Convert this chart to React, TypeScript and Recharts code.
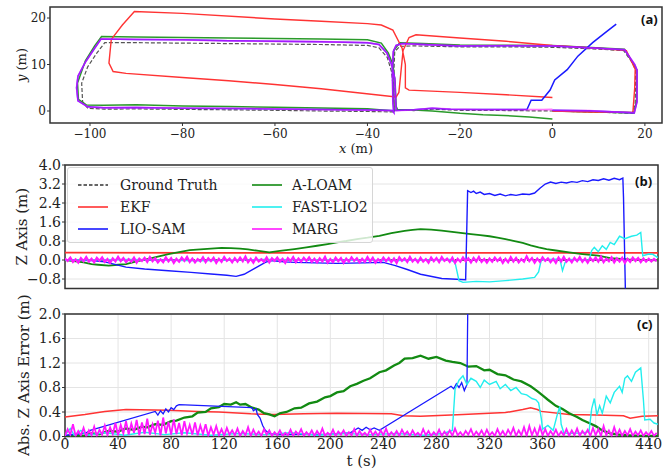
import React from 'react';
import { LineChart, Line, XAxis, YAxis, CartesianGrid, ReferenceArea, Legend } from 'recharts';

type P = [number, number];
const FONT = "'DejaVu Serif', serif";
const TAG_FONT = "'Open Sans', sans-serif";

// ---------- Panel (a): trajectories, x (m) / y (m) ----------
const gtPath: P[] = [
  [0, 0], [8, -0.2], [17.3, -0.5], [17.9, 1.5], [18, 8.8], [17.2, 10.5], [15.4, 13], [8, 13.4], [0, 13.7],
  [-10, 13.8], [-20, 13.8], [-30, 14], [-33, 13.9], [-34.1, 12.8], [-34.3, 8], [-34.2, 1], [-34.4, -0.2],
  [-40, -0.1], [-50, 0], [-60, 0.15], [-70, 0.25], [-80, 0.35], [-90, 0.45], [-97, 0.4], [-100.5, 0.6],
  [-101.6, 2], [-101.8, 6], [-100.5, 9.5], [-98.5, 12.5], [-96.8, 14.7], [-90, 14.7], [-80, 14.6], [-70, 14.5],
  [-60, 14.4], [-50, 14.3], [-40, 14.1], [-37.5, 13.6], [-35.7, 11.5], [-34.8, 8.5], [-34.3, 4], [-34.2, 0.2],
  [-30, 0.1], [-26, 0.4], [-20, 0.15], [-10, 0.1], [0, 0],
];
const ekfPath: P[] = [
  [0, 0], [8, -0.2], [17.4, -0.3], [17.8, 5], [17.9, 9], [16, 13], [10, 13.5], [0, 14.1], [-10, 15], [-20, 15.7],
  [-29.5, 16.4], [-31, 15.8], [-32.3, 13], [-32.8, 8], [-33.2, 4], [-33.8, 3], [-37.2, 3.4], [-50, 4.8],
  [-60, 5.7], [-70, 6.5], [-80, 7.2], [-92.2, 8.1], [-95, 8.5], [-95.9, 10.3], [-95.4, 15.4], [-93, 18.5],
  [-90.4, 21.4], [-80, 21], [-60, 19.8], [-50, 19.3], [-40, 18.8], [-37, 18.5], [-34.5, 17.4], [-32.5, 13.5],
  [-31.8, 10], [-31.8, 5], [-31, 4.5], [-20, 4], [-10, 3.5], [0, 2.9],
];
const aloamPath: P[] = [
  [0, 0], [10, -0.2], [17.6, -0.4], [18.2, 2], [18.3, 8.8], [15.6, 13.3], [0, 14.1], [-20, 14.2], [-28, 14.5],
  [-33, 14.7], [-34.3, 13], [-34.5, 9], [-34.4, 2], [-34.2, 0], [-40, 0.5], [-50, 0.65], [-60, 0.8], [-70, 0.95],
  [-80, 1.1], [-90, 1.35], [-97, 1.25], [-100.8, 1.3], [-102.5, 2.5], [-102.7, 6], [-101, 10.8], [-99, 14],
  [-97.5, 16], [-90, 15.9], [-80, 15.8], [-70, 15.7], [-60, 15.6], [-50, 15.5], [-40, 15.3], [-37, 14.6],
  [-35.5, 12.5], [-34.5, 10], [-34, 6], [-33.8, 1], [-33.5, 0.3], [-30, 0.2], [-26, 0], [-20, -0.5],
  [-15, -0.8], [-10.5, -0.95], [-5, -1.3], [0, -1.7],
];
const sharedLoop: P[] = [
  [0, 0.15], [8, 0.05], [17.7, -0.4], [18.3, 2], [18.3, 8.8], [17.8, 10], [15.6, 13.2], [8, 13.6], [0, 14],
  [-10, 14.05], [-20, 14], [-28, 14.3], [-32.5, 14.5], [-33.8, 14.1], [-34.4, 12.8], [-34.6, 9], [-34.5, 2],
  [-34.3, -0.3], [-34.6, 0.1], [-40, 0.2], [-50, 0.3], [-60, 0.45], [-70, 0.55], [-80, 0.6], [-90, 0.75],
  [-97, 0.7], [-100.5, 0.9], [-102.6, 2.2], [-102.9, 5], [-102.6, 7.5], [-101, 10.5], [-99, 13.5], [-97.6, 15.5],
  [-90, 15.4], [-80, 15.3], [-70, 15.1], [-60, 15], [-50, 14.9], [-40, 14.7], [-37.5, 14.3], [-35.8, 12.5],
  [-34.8, 10], [-34.1, 7], [-33.9, 2], [-33.8, 0.1], [-30, 0.25], [-26, 0.6], [-22, 0.4], [-15, 0.3],
  [-10, 0.3], [-5.5, 0.3],
];
const margTail: P[] = [[-2, 0.3], [0, 0.35]];
const lioTail: P[] = [
  [-4.6, 2.3], [-2.3, 2.3], [-0.5, 4.5], [0.5, 6.7], [3.2, 8.9], [5.5, 11.8], [8.7, 14.7], [11.5, 16.9], [13.8, 18.7],
];
const xTicksA = [-100, -80, -60, -40, -20, 0, 20];
const yTicksA = [0, 10, 20];

// ---------- Panel (b): Z axis (m) vs t (s) ----------
const gtZ: P[] = [[0, 0], [447, 0]];
const ekfZ: P[] = [[0, 0.31], [100, 0.3], [200, 0.3], [300, 0.3], [447, 0.3]];
const lioZ: P[] = [
  [0, 0], [20, -0.02], [30, -0.08], [46, -0.3], [60, -0.38], [78, -0.45], [95, -0.52], [110, -0.59], [122, -0.64],
  [129, -0.69], [135, -0.6], [143, -0.35], [151, -0.1], [155, -0.02], [165, -0.08], [173, -0.1], [205, -0.14],
  [225, -0.12], [240, -0.1], [249, -0.24], [258, -0.4], [268, -0.6], [284, -0.78], [302, -0.83], [303.5, 2.92],
  [306, 2.84], [308, 2.9], [310, 2.8], [313, 2.86], [316, 2.76], [320, 2.8], [324, 2.72], [328, 2.78], [332, 2.7],
  [336, 2.76], [340, 2.72], [345, 2.78], [350, 2.76], [354, 2.82], [358, 3.02], [362, 3.2], [366, 3.28], [370, 3.22],
  [374, 3.28], [378, 3.24], [382, 3.3], [386, 3.27], [390, 3.34], [394, 3.3], [398, 3.38], [402, 3.35], [406, 3.42],
  [410, 3.36], [414, 3.44], [418, 3.38], [420.5, 3.45], [421, 2.63], [422.5, -1.5],
];
const aloamZ: P[] = [
  [0, 0], [8, -0.06], [14, -0.1], [20, -0.17], [25, -0.2], [33, -0.24], [40, -0.2], [46, -0.17], [54, -0.06],
  [62, 0.04], [70, 0.14], [78, 0.25], [86, 0.33], [94, 0.42], [102, 0.45], [110, 0.48], [118, 0.51], [125, 0.5],
  [132, 0.48], [138, 0.45], [146, 0.38], [154, 0.32], [162, 0.38], [173, 0.46], [182, 0.53], [190, 0.6],
  [198, 0.67], [205, 0.74], [212, 0.8], [220, 0.88], [228, 0.94], [237, 1.02], [246, 1.13], [256, 1.23],
  [262, 1.27], [268, 1.3], [276, 1.28], [284, 1.24], [295, 1.16], [306, 1.09], [313, 1.05], [320, 1],
  [326, 0.94], [332, 0.88], [338, 0.81], [345, 0.72], [351, 0.62], [357, 0.53], [363, 0.46], [370, 0.4],
  [380, 0.32], [390, 0.25], [402, 0.18], [411, 0.08], [425, 0.03], [447, -0.02],
];
const fastlioZ: P[] = [
  [0, 0], [50, 0.02], [100, -0.03], [150, 0.02], [200, 0], [250, -0.02], [290, 0.02], [294, -0.1], [297, -0.87],
  [300, -0.94], [310, -0.9], [320, -0.92], [332, -0.87], [345, -0.8], [354, -0.73], [357, -0.5], [359, 0], [365, 0.02],
  [373, 0.04], [375, -0.45], [377, -0.1], [380, 0.02], [395, 0], [397, 0.4], [399, 0.53], [402, 0.35], [405, 0.6],
  [408, 0.45], [411, 0.74], [414, 0.65], [418, 1], [422, 0.9], [427, 1], [431, 1.05], [434, 1.16], [435.5, 0.18],
  [440, 0.25], [443, 0.24], [447, 0.1],
];
const MARG_DT = 2; // sampling step of the MARG traces (s)
const margZ = [
  0.06, -0.04, 0.1, -0.08, 0.03, -0.11, 0.08, -0.05, 0.12, -0.07,
  0.05, -0.1, 0.09, -0.03, 0.11, -0.08, 0.04, -0.12, 0.07, -0.06,
  0.13, -0.05, 0.08, -0.09, 0.04, -0.07, 0.1, -0.11, 0.06, -0.04,
  0.09, -0.08, 0.12, -0.05, 0.07, -0.1, 0.03, -0.09, 0.11, -0.06,
  0.08, -0.12, 0.05, -0.07, 0.1, -0.04, 0.13, -0.08, 0.06, -0.1,
  0.04, -0.06, 0.11, -0.09, 0.07, -0.05, 0.09, -0.12, 0.05, -0.08,
  0.12, -0.04, 0.06, -0.1, 0.08, -0.07, 0.1, -0.05, 0.14, -0.09,
  0.05, -0.11, 0.09, -0.06, 0.03, -0.08, 0.11, -0.1, 0.07, -0.04,
  0.1, -0.07, 0.05, -0.12, 0.08, -0.05, 0.12, -0.09, 0.06, -0.07,
  0.09, -0.04, 0.11, -0.08, 0.05, -0.1, 0.07, -0.06, 0.13, -0.11,
  0.04, -0.09, 0.1, -0.05, 0.08, -0.12, 0.06, -0.07, 0.11, -0.04,
  0.07, -0.1, 0.05, -0.08, 0.12, -0.06, 0.09, -0.11, 0.04, -0.07,
  0.1, -0.05, 0.08, -0.09, 0.06, -0.12, 0.11, -0.04, 0.07, -0.08,
  0.13, -0.06, 0.05, -0.1, 0.09, -0.07, 0.04, -0.11, 0.1, -0.05,
  0.08, -0.09, 0.12, -0.04, 0.06, -0.08, 0.1, -0.12, 0.05, -0.07,
  0.11, -0.05, 0.07, -0.1, 0.09, -0.06, 0.13, -0.08, 0.04, -0.11,
  0.06, -0.07, 0.1, -0.04, 0.08, -0.12, 0.05, -0.09, 0.12, -0.06,
  0.09, -0.1, 0.04, -0.07, 0.15, -0.05, 0.08, -0.11, 0.06, -0.08,
  0.11, -0.04, 0.07, -0.09, 0.05, -0.12, 0.1, -0.06, 0.13, -0.07,
  0.05, -0.1, 0.09, -0.05, 0.12, -0.08, 0.06, -0.11, 0.08, -0.04,
  0.1, -0.07, 0.14, -0.09, 0.06, -0.05, 0.11, -0.1, 0.07, -0.06,
  0.09, -0.12, 0.05, -0.08, 0.1, -0.04, 0.08, -0.09, 0.06, -0.07,
  0.05, -0.06, 0.04, -0.05,
];
const yTicksB = [-0.8, 0, 0.8, 1.6, 2.4, 3.2, 4.0];

// ---------- Panel (c): Abs. Z axis error (m) vs t (s) ----------
const ekfErr: P[] = [
  [0, 0.32], [15, 0.36], [30, 0.41], [46, 0.44], [78, 0.43], [100, 0.41], [116, 0.4], [140, 0.37], [157, 0.36],
  [180, 0.37], [205, 0.38], [246, 0.37], [255, 0.34], [268, 0.33], [300, 0.36], [332, 0.39], [345, 0.44], [351, 0.47],
  [356, 0.44], [359, 0.41], [380, 0.36], [400, 0.35], [421, 0.34], [426, 0.3], [435, 0.33], [447, 0.34],
];
const aloamErr: P[] = [
  [0, 0], [8, 0.02], [14, 0.01], [20, 0.05], [26, 0.04], [33, 0.09], [40, 0.08], [46, 0.13], [52, 0.11], [58, 0.16],
  [62, 0.15], [68, 0.2], [74, 0.19], [80, 0.25], [84, 0.26], [90, 0.31], [96, 0.33], [100, 0.39], [106, 0.4],
  [110, 0.46], [116, 0.48], [120, 0.53], [125, 0.52], [129, 0.56], [132, 0.52], [136, 0.53], [141, 0.47],
  [146, 0.44], [150, 0.38], [154, 0.36], [158, 0.33], [162, 0.38], [167, 0.4], [173, 0.46], [178, 0.47],
  [184, 0.54], [190, 0.57], [196, 0.64], [200, 0.66], [205, 0.72], [210, 0.74], [215, 0.82], [220, 0.86],
  [225, 0.91], [230, 0.95], [237, 1.05], [242, 1.08], [248, 1.16], [252, 1.2], [256, 1.27], [262, 1.28],
  [268, 1.32], [274, 1.27], [280, 1.3], [287, 1.24], [292, 1.22], [298, 1.2], [304, 1.14], [310, 1.15],
  [316, 1.08], [320, 1.09], [326, 1.02], [332, 1], [338, 0.93], [344, 0.9], [351, 0.82], [356, 0.74],
  [360, 0.67], [364, 0.6], [370, 0.5], [375, 0.45], [380, 0.38], [386, 0.32], [390, 0.27], [395, 0.22],
  [400, 0.17], [405, 0.1], [411, 0.05], [418, 0.03], [425, 0.02], [435, 0.01], [447, 0.01],
];
const lioErr: P[] = [
  [0, 0.02], [15, 0.05], [19, 0.1], [68, 0.41], [70, 0.35], [72, 0.42], [74, 0.37], [76, 0.45], [78, 0.4], [80, 0.47],
  [82, 0.44], [84, 0.5], [86, 0.52], [141, 0.47], [142, 0.42], [144, 0.45], [145, 0.36], [147, 0.3], [149, 0.18],
  [151, 0.1], [154, 0.05], [160, 0.03], [200, 0.04], [215, 0.06], [221, 0.14], [224, 0.1], [227, 0.15], [230, 0.11],
  [233, 0.14], [237, 0.1], [291, 0.82], [293, 0.78], [295, 0.86], [297, 0.8], [299, 0.88], [301, 0.75], [303, 0.85],
  [304, 2.9], [420, 3.4],
];
const fastlioErr: P[] = [
  [0, 0.02], [4, 0.13], [7, 0.02], [12, 0.1], [16, 0.02], [30, 0.06], [45, 0.02], [60, 0.07], [75, 0.03], [90, 0.06],
  [110, 0.02], [130, 0.05], [150, 0.03], [170, 0.06], [190, 0.02], [210, 0.05], [230, 0.03], [250, 0.05], [270, 0.02],
  [285, 0.05], [292, 0.1], [294, 0.77], [297, 0.92], [300, 0.99], [303, 0.85], [306, 0.95], [310, 0.9], [313, 0.8],
  [316, 0.92], [320, 0.85], [325, 0.9], [328, 0.78], [332, 0.85], [336, 0.75], [340, 0.8], [344, 0.7], [348, 0.68],
  [352, 0.62], [355, 0.6], [357, 0.55], [359, 0.3], [360, 0.12], [364, 0.18], [368, 0.1], [371, 0.35], [373, 0.49],
  [374, 0.2], [376, 0.06], [380, 0.05], [390, 0.06], [395, 0.08], [397, 0.45], [399, 0.62], [401, 0.35], [403, 0.5],
  [405, 0.38], [408, 0.66], [411, 0.55], [414, 0.72], [418, 0.82], [420, 0.72], [422, 0.95], [424, 0.99], [427, 0.9],
  [430, 1.05], [434, 1.12], [436, 0.6], [437, 0.27], [441, 0.28], [444, 0.22], [447, 0.2],
];
const margErr = [
  0.01, 0.12, 0.03, 0.2, 0.01, 0.09, 0.02, 0.14, 0, 0.1,
  0.02, 0.16, 0.01, 0.11, 0.03, 0.18, 0.02, 0.15, 0.04, 0.22,
  0.02, 0.19, 0.05, 0.25, 0.03, 0.21, 0.06, 0.27, 0.02, 0.23,
  0.04, 0.29, 0.03, 0.2, 0.06, 0.26, 0.02, 0.31, 0.05, 0.24,
  0.03, 0.28, 0.04, 0.22, 0.02, 0.25, 0.05, 0.19, 0.03, 0.23,
  0.02, 0.18, 0.04, 0.2, 0.01, 0.15, 0.03, 0.17, 0.02, 0.12,
  0.01, 0.14, 0.03, 0.1, 0.02, 0.13, 0.01, 0.09, 0.02, 0.15,
  0.01, 0.11, 0.02, 0.08, 0.01, 0.12, 0.03, 0.1, 0.01, 0.07,
  0.02, 0.1, 0.01, 0.06, 0.02, 0.11, 0.01, 0.08, 0.03, 0.12,
  0.01, 0.07, 0.02, 0.1, 0.01, 0.09, 0.02, 0.13, 0.01, 0.06,
  0.02, 0.11, 0.01, 0.08, 0.03, 0.1, 0.01, 0.07, 0.02, 0.12,
  0.01, 0.09, 0.02, 0.06, 0.01, 0.11, 0.02, 0.08, 0.01, 0.1,
  0.02, 0.13, 0.01, 0.07, 0.02, 0.09, 0.01, 0.11, 0.03, 0.08,
  0.01, 0.1, 0.02, 0.06, 0.01, 0.12, 0.02, 0.09, 0.01, 0.07,
  0.02, 0.11, 0.01, 0.08, 0.02, 0.1, 0.01, 0.13, 0.02, 0.07,
  0.01, 0.09, 0.03, 0.12, 0.01, 0.08, 0.02, 0.1, 0.01, 0.11,
  0.02, 0.07, 0.01, 0.12, 0.02, 0.09, 0.01, 0.11, 0.03, 0.14,
  0.01, 0.1, 0.02, 0.15, 0.01, 0.17, 0.02, 0.13, 0.01, 0.16,
  0.02, 0.12, 0.01, 0.09, 0.02, 0.11, 0.01, 0.08, 0.02, 0.12,
  0.01, 0.1, 0.02, 0.13, 0.01, 0.09, 0.03, 0.11, 0.01, 0.14,
  0.02, 0.12, 0.01, 0.17, 0.02, 0.1, 0.01, 0.15, 0.02, 0.11,
  0.01, 0.09, 0.02, 0.12, 0.01, 0.08, 0.02, 0.1, 0.01, 0.07,
  0.02, 0.09, 0.01, 0.06,
];
const yTicksC = [0, 0.4, 0.8, 1.2, 1.6, 2.0];
const tTicks = [0, 40, 80, 120, 160, 200, 240, 280, 320, 360, 400, 440];

const legendOrder = ['Ground Truth', 'EKF', 'LIO-SAM', 'A-LOAM', 'FAST-LIO2', 'MARG'];
const COLORS = { gt: '#333333', ekf: '#ff3333', lio: '#1a1aff', aloam: '#128a12', fast: '#22eeee', marg: '#ff19ff' };

// ---------- helpers ----------
const toXY = (pts: P[]) => pts.map(([x, y]) => ({ x, y }));
const toTV = (pts: P[]) => pts.map(([t, v]) => ({ t, v }));
const sampled = (vals: number[]) => vals.map((v, i) => ({ t: i * MARG_DT, v }));
const minus = (s: string) => s.replace('-', '\u2212');
const fmtInt = (v: number) => minus(String(v));
const fmt1 = (v: number) => minus(v.toFixed(1));

const T_DOMAIN: [number, number] = [0, 447];
const A_X: [number, number] = [-108.65, 23.7];
const A_Y: [number, number] = [-2.58, 22.37];
const B_Y: [number, number] = [-1.2, 4.0];
const C_Y: [number, number] = [0, 2.0];

const YLabel = (props: any) => {
  const { viewBox, px, fontSize, children } = props;
  const cy = viewBox ? viewBox.y + viewBox.height / 2 : 0;
  return (
    <text x={px} y={cy} transform={`rotate(-90 ${px} ${cy})`} textAnchor="middle" dominantBaseline="central"
      fontSize={fontSize} fill="#222" fontFamily={FONT}>{children}</text>
  );
};
const XLabel = (props: any) => {
  const { viewBox, off, fontSize, children } = props;
  const cx = viewBox ? viewBox.x + viewBox.width / 2 : 0;
  const cy = viewBox ? viewBox.y + off : 0;
  return (
    <text x={cx} y={cy} textAnchor="middle" dominantBaseline="central" fontSize={fontSize} fill="#222" fontFamily={FONT}>{children}</text>
  );
};

const LegendBox = (props: any) => {
  const payload: any[] = props.payload || [];
  const items = legendOrder.map((n) => payload.find((p) => p.value === n)).filter(Boolean);
  return (
    <div style={{ width: 306, height: 76, boxSizing: 'border-box', border: '1px solid #d6d6d6', borderRadius: 3,
      background: 'rgba(255,255,255,0.8)', position: 'relative', fontFamily: FONT, fontSize: 14, color: '#222' }}>
      {items.map((it: any, i: number) => {
        const col = Math.floor(i / 3);
        const row = i % 3;
        return (
          <div key={it.value} style={{ position: 'absolute', left: col ? 184 : 10, top: 8 + row * 22, height: 18,
            display: 'flex', alignItems: 'center', whiteSpace: 'nowrap' }}>
            <svg width={30} height={4} style={{ display: 'block' }}>
              <line x1={0} y1={2} x2={30} y2={2} stroke={it.color} strokeWidth={1.6}
                strokeDasharray={it.value === 'Ground Truth' ? '3.5 2' : undefined} />
            </svg>
            <span style={{ marginLeft: col ? 10 : 12 }}>{it.value}</span>
          </div>
        );
      })}
    </div>
  );
};

const tickA = { fontSize: 12, fill: '#222', fontFamily: FONT };
const tickBC = { fontSize: 14, fill: '#222', fontFamily: FONT };
const frame = { fill: 'none', stroke: '#333', strokeWidth: 1.5, ifOverflow: 'visible' as const };
const common = { dot: false, isAnimationActive: false, type: 'linear' as const };

function PanelA() {
  return (
    <LineChart width={663} height={160} margin={{ top: 7, right: 1, bottom: 10, left: 0 }}>
      <XAxis type="number" dataKey="x" domain={A_X} allowDataOverflow ticks={xTicksA} interval={0} tickFormatter={fmtInt}
        tick={tickA} tickSize={3} tickMargin={3} axisLine={false} tickLine={{ stroke: '#333' }} height={27}
        label={<XLabel off={25} fontSize={13}><tspan fontStyle="italic">x</tspan> (m)</XLabel>} />
      <YAxis type="number" domain={A_Y} allowDataOverflow ticks={yTicksA} interval={0} tickFormatter={fmtInt}
        tick={tickA} tickSize={3} tickMargin={1} axisLine={false} tickLine={{ stroke: '#333' }} width={50}
        label={<YLabel px={21} fontSize={13}><tspan fontStyle="italic">y</tspan> (m)</YLabel>} />
      <ReferenceArea x1={A_X[0]} x2={A_X[1]} y1={A_Y[0]} y2={A_Y[1]} {...frame} />
      <Line {...common} data={toXY(gtPath)} dataKey="y" name="Ground Truth" stroke="#555" strokeWidth={1.2} strokeDasharray="4 2" />
      <Line {...common} data={toXY(aloamPath)} dataKey="y" name="A-LOAM" stroke="#2a9a2a" strokeWidth={1.5} />
      <Line {...common} data={toXY(ekfPath)} dataKey="y" name="EKF" stroke={COLORS.ekf} strokeWidth={1.4} />
      <Line {...common} data={toXY([...sharedLoop, ...lioTail])} dataKey="y" name="LIO-SAM" stroke={COLORS.lio} strokeWidth={1.5} />
      <Line {...common} data={toXY([...sharedLoop, ...margTail])} dataKey="y" name="MARG" stroke={COLORS.marg} strokeOpacity={0.6} strokeWidth={1.8} />
    </LineChart>
  );
}

function PanelB() {
  return (
    <LineChart width={663} height={145} margin={{ top: 15, right: 5, bottom: 6.5, left: 0 }}>
      <CartesianGrid stroke="#e4e4e4" strokeWidth={1} />
      <XAxis type="number" dataKey="t" domain={T_DOMAIN} allowDataOverflow ticks={tTicks} interval={0}
        tick={false} tickLine={false} axisLine={false} height={0} />
      <YAxis type="number" domain={B_Y} allowDataOverflow ticks={yTicksB} interval={0} tickFormatter={fmt1}
        tick={tickBC} tickSize={3} tickMargin={1} axisLine={false} tickLine={{ stroke: '#333' }} width={65}
        label={<YLabel px={22} fontSize={15}>Z Axis (m)</YLabel>} />
      <ReferenceArea x1={T_DOMAIN[0]} x2={T_DOMAIN[1]} y1={B_Y[0]} y2={B_Y[1]} {...frame} />
      <Line {...common} data={toTV(gtZ)} dataKey="v" name="Ground Truth" stroke={COLORS.gt} strokeWidth={1.3} strokeDasharray="4 2" />
      <Line {...common} data={toTV(ekfZ)} dataKey="v" name="EKF" stroke={COLORS.ekf} strokeWidth={1.7} />
      <Line {...common} data={toTV(aloamZ)} dataKey="v" name="A-LOAM" stroke={COLORS.aloam} strokeWidth={1.8} />
      <Line {...common} data={toTV(lioZ)} dataKey="v" name="LIO-SAM" stroke={COLORS.lio} strokeWidth={1.4} />
      <Line {...common} data={toTV(fastlioZ)} dataKey="v" name="FAST-LIO2" stroke={COLORS.fast} strokeWidth={1.4} />
      <Line {...common} data={sampled(margZ)} dataKey="v" name="MARG" stroke={COLORS.marg} strokeWidth={2.2} strokeLinejoin="miter" />
      <Legend layout="vertical" align="center" verticalAlign="middle" content={<LegendBox />}
        wrapperStyle={{ left: 67, top: 17, width: 306, height: 76 }} />
    </LineChart>
  );
}

function PanelC() {
  return (
    <LineChart width={663} height={175} margin={{ top: 19, right: 5, bottom: 0, left: 0 }}>
      <CartesianGrid stroke="#e4e4e4" strokeWidth={1} />
      <XAxis type="number" dataKey="t" domain={T_DOMAIN} allowDataOverflow ticks={tTicks} interval={0}
        tick={tickBC} tickSize={3} tickMargin={0} axisLine={false} tickLine={{ stroke: '#333' }} height={33.5}
        label={<XLabel off={24.5} fontSize={15}>t (s)</XLabel>} />
      <YAxis type="number" domain={C_Y} allowDataOverflow ticks={yTicksC} interval={0} tickFormatter={fmt1}
        tick={tickBC} tickSize={3} tickMargin={1} axisLine={false} tickLine={{ stroke: '#333' }} width={65}
        label={<YLabel px={24} fontSize={15}>Abs. Z Axis Error (m)</YLabel>} />
      <ReferenceArea x1={T_DOMAIN[0]} x2={T_DOMAIN[1]} y1={C_Y[0]} y2={C_Y[1]} {...frame} />
      <Line {...common} data={toTV(ekfErr)} dataKey="v" name="EKF" stroke={COLORS.ekf} strokeWidth={1.5} />
      <Line {...common} data={toTV(aloamErr)} dataKey="v" name="A-LOAM" stroke={COLORS.aloam} strokeWidth={2.3} />
      <Line {...common} data={toTV(lioErr)} dataKey="v" name="LIO-SAM" stroke={COLORS.lio} strokeWidth={1.3} />
      <Line {...common} data={toTV(fastlioErr)} dataKey="v" name="FAST-LIO2" stroke={COLORS.fast} strokeWidth={1.4} />
      <Line {...common} data={sampled(margErr)} dataKey="v" name="MARG" stroke={COLORS.marg} strokeWidth={1.8} />
    </LineChart>
  );
}

const tagStyle: React.CSSProperties = {
  position: 'absolute', fontFamily: TAG_FONT, fontWeight: 700, fontSize: 13, lineHeight: '16px', color: '#111',
};

export default function App() {
  return (
    <div style={{ position: 'absolute', left: 0, top: 0, width: 663, height: 470, background: '#fff', overflow: 'hidden' }}>
      <div style={{ position: 'absolute', left: 0, top: 0 }}><PanelA /></div>
      <div style={{ position: 'absolute', left: 0, top: 150 }}><PanelB /></div>
      <div style={{ position: 'absolute', left: 0, top: 295 }}><PanelC /></div>
      <div style={{ ...tagStyle, left: 641, top: 11 }}>(a)</div>
      <div style={{ ...tagStyle, left: 635, top: 173 }}>(b)</div>
      <div style={{ ...tagStyle, left: 637, top: 316 }}>(c)</div>
    </div>
  );
}
